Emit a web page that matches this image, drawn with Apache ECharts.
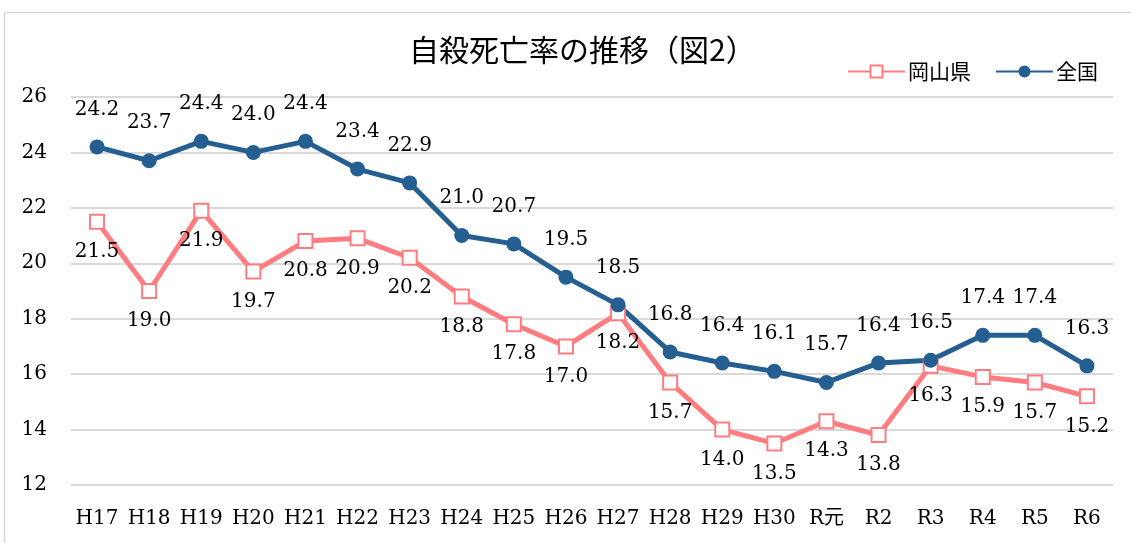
<!DOCTYPE html>
<html><head><meta charset="utf-8">
<script src="https://cdn.jsdelivr.net/npm/echarts@6/dist/echarts.min.js"></script>
<style>html,body{margin:0;padding:0;background:#fff}#c{width:1131px;height:543px}</style>
</head><body><div id="c"></div>
<script>
const categories = ['H17','H18','H19','H20','H21','H22','H23','H24','H25','H26','H27','H28','H29','H30','R元','R2','R3','R4','R5','R6'];
const okayama = [21.5,19.0,21.9,19.7,20.8,20.9,20.2,18.8,17.8,17.0,18.2,15.7,14.0,13.5,14.3,13.8,16.3,15.9,15.7,15.2];
const national = [24.2,23.7,24.4,24.0,24.4,23.4,22.9,21.0,20.7,19.5,18.5,16.8,16.4,16.1,15.7,16.4,16.5,17.4,17.4,16.3];
const yTicks = {min:12, max:26, interval:2};

const serif = '"DejaVu Serif", "Noto Sans CJK JP", serif';
const chart = echarts.init(document.getElementById('c'));
chart.setOption({
  animation:false,
  graphic:[{type:'rect',shape:{x:4.5,y:12.5,width:1140,height:540},style:{fill:'none',stroke:'#d9d9d9',lineWidth:1.5},silent:true}],
  title:{text:'自殺死亡率の推移（図2）',left:404,top:30,textStyle:{fontFamily:'"Noto Sans CJK JP", sans-serif',fontWeight:'normal',fontSize:30,color:'#000'}},
  legend:{top:56,right:28,itemWidth:57,itemHeight:15,itemGap:24,textStyle:{fontFamily:'"Noto Sans CJK JP", serif',fontSize:21,color:'#000',padding:[0,0,0,-2]},
    data:['岡山県','全国']},
  grid:{left:71,right:18,top:97,bottom:58},
  xAxis:{type:'category',data:categories,boundaryGap:true,axisLine:{show:false},axisTick:{show:false},
    axisLabel:{interval:0,fontFamily:serif,fontSize:20,color:'#000',margin:24}},
  yAxis:{type:'value',min:yTicks.min,max:yTicks.max,interval:yTicks.interval,axisLine:{show:false},axisTick:{show:false},
    axisLabel:{fontFamily:serif,fontSize:20,color:'#000',margin:24},
    splitLine:{lineStyle:{color:'#d9d9d9',width:2}}},
  series:[
    {name:'岡山県',type:'line',data:okayama,symbol:'rect',symbolSize:14,
      lineStyle:{color:'#FF7C80',width:5},itemStyle:{color:'#fff',borderColor:'#FF7C80',borderWidth:2},
      label:{show:true,position:'bottom',distance:12,formatter:p=>p.value.toFixed(1),fontFamily:serif,fontSize:20,color:'#000'}},
    {name:'全国',type:'line',data:national,symbol:'circle',symbolSize:15,
      lineStyle:{color:'#255E91',width:5},itemStyle:{color:'#255E91'},
      label:{show:true,position:'top',distance:20,formatter:p=>p.value.toFixed(1),fontFamily:serif,fontSize:20,color:'#000'}}
  ]
});
</script></body></html>
